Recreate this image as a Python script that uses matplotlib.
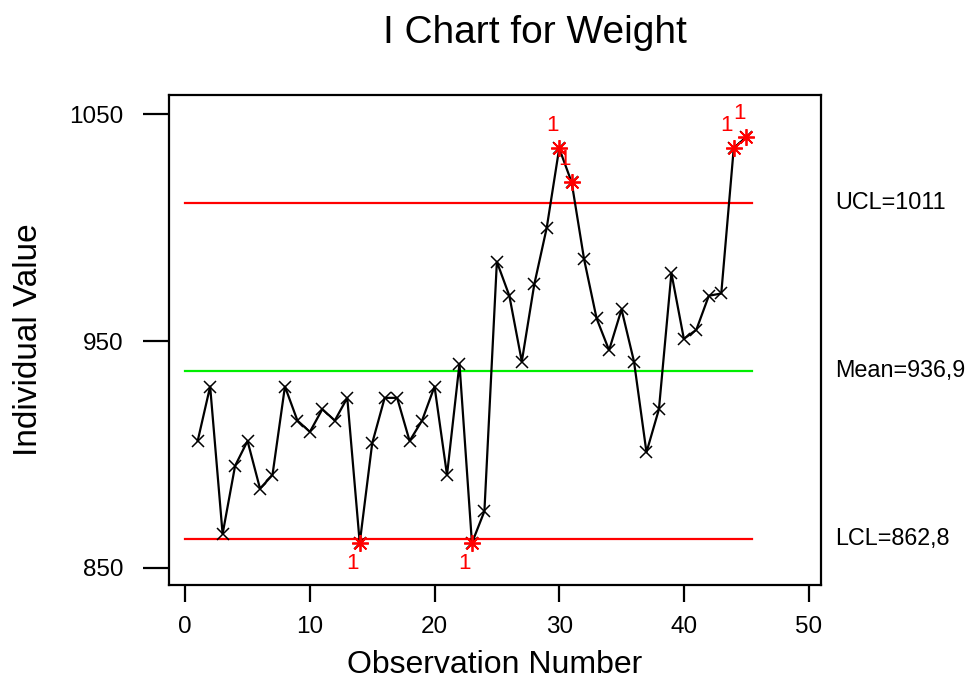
import matplotlib
matplotlib.use("Agg")
from matplotlib import pyplot as plt

plt.rcParams['font.family'] = ['Liberation Sans', 'DejaVu Sans']

obs = list(range(1, 46))
weight = [906, 930, 865, 895, 906, 885, 891, 930, 915, 910,
          920, 915, 925, 861, 905, 925, 925, 906, 915, 930,
          891, 940, 861, 875, 985, 970, 941, 975, 1000, 1035,
          1020, 986, 960, 946, 964, 941, 901, 920, 980, 951,
          955, 970, 971, 1035, 1040]

ucl = 1011
mean = 936.9
lcl = 862.8
limit_labels = ["UCL=1011", "Mean=936,9", "LCL=862,8"]

# points that fail test 1 (beyond 3 sigma)
flagged = [i for i, v in enumerate(weight) if v > ucl or v < lcl]

fig = plt.figure(figsize=(9.74, 6.8), dpi=100)
ax = fig.add_axes([169 / 974, (680 - 585) / 680, (821 - 169) / 974, (585 - 95) / 680])

ax.plot([0, 45.5], [ucl, ucl], color="#ff0000", lw=1.6)
ax.plot([0, 45.5], [mean, mean], color="#00ee00", lw=1.6)
ax.plot([0, 45.5], [lcl, lcl], color="#ff0000", lw=1.6)

ax.plot(obs, weight, color="black", lw=1.6, marker="x", ms=8.5, mew=1.1, mec="black")
ax.plot([obs[i] for i in flagged], [weight[i] for i in flagged], ls="none",
        marker=(8, 2, 0), ms=12, mew=1.3, color="#ff0000", zorder=4)

for i in flagged:
    if weight[i] > ucl:
        ax.annotate("1", (obs[i], weight[i]), xytext=(-5, 9), textcoords="offset points",
                    ha="center", va="bottom", color="#ff0000", fontsize=16)
    else:
        ax.annotate("1", (obs[i], weight[i]), xytext=(-5, -7), textcoords="offset points",
                    ha="center", va="top", color="#ff0000", fontsize=16)

tr = ax.get_yaxis_transform()
for val, lab in zip([ucl, mean, lcl], limit_labels):
    ax.text(1.022, val, lab, transform=tr, ha="left", va="center", fontsize=16.8, clip_on=False)

ax.set_xlim(-1.3, 51.0)
ax.set_ylim(842.5, 1058.5)
ax.set_xticks([0, 10, 20, 30, 40, 50])
ax.set_yticks([850, 950, 1050])

for s in ax.spines.values():
    s.set_linewidth(1.6)
ax.tick_params(axis="x", length=12, width=1.6, pad=10, labelsize=17.5)
ax.tick_params(axis="y", length=19, width=1.6, pad=14, labelsize=17.5)

ax.set_xlabel("Observation Number", fontsize=23, labelpad=9)
ax.set_ylabel("Individual Value", fontsize=24, labelpad=18)
fig.text(0.549, 0.951, "I Chart for Weight", ha="center", va="center", fontsize=28)

fig.savefig("out.png", dpi=100)
